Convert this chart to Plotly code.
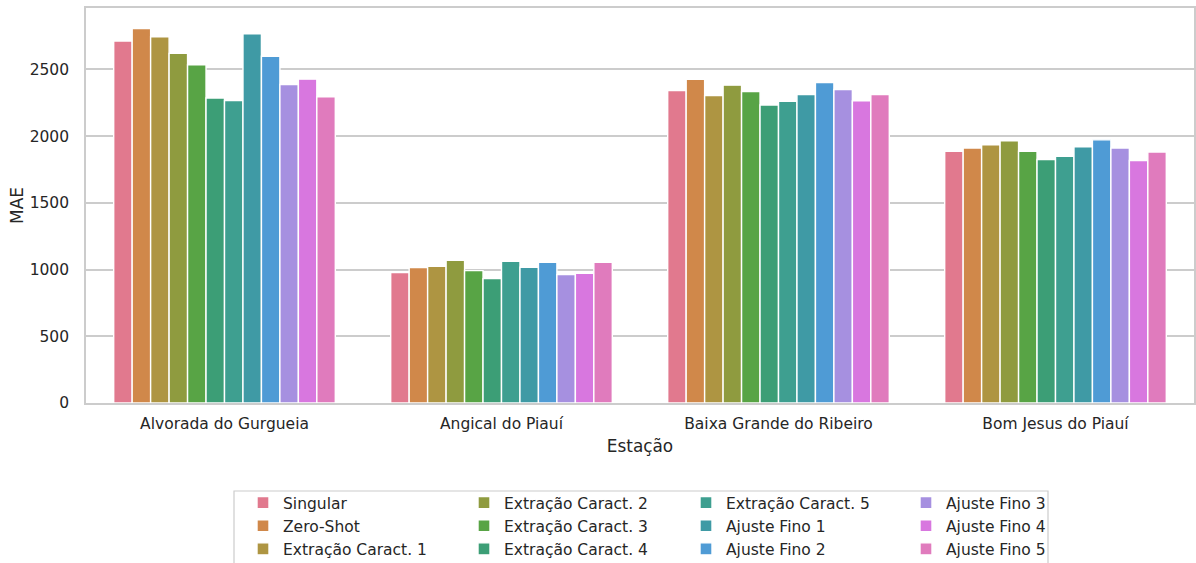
import plotly.graph_objects as go

stations = ["Alvorada do Gurgueia", "Angical do Piauí", "Baixa Grande do Ribeiro", "Bom Jesus do Piauí"]

methods = ["Singular", "Zero-Shot", "Extração Caract. 1", "Extração Caract. 2",
           "Extração Caract. 3", "Extração Caract. 4", "Extração Caract. 5",
           "Ajuste Fino 1", "Ajuste Fino 2", "Ajuste Fino 3", "Ajuste Fino 4", "Ajuste Fino 5"]

# MAE per method, one value per station (same order as `stations`)
singular = [2713, 977, 2342, 1887]
zero_shot = [2806, 1015, 2425, 1910]
extr_1 = [2745, 1025, 2304, 1935]
extr_2 = [2620, 1070, 2382, 1965]
extr_3 = [2535, 992, 2334, 1887]
extr_4 = [2286, 932, 2233, 1825]
extr_5 = [2267, 1062, 2261, 1849]
ajuste_1 = [2766, 1017, 2312, 1920]
ajuste_2 = [2598, 1055, 2402, 1972]
ajuste_3 = [2387, 962, 2349, 1910]
ajuste_4 = [2427, 972, 2264, 1817]
ajuste_5 = [2294, 1055, 2312, 1880]

series = [singular, zero_shot, extr_1, extr_2, extr_3, extr_4, extr_5,
          ajuste_1, ajuste_2, ajuste_3, ajuste_4, ajuste_5]

y_ticks = [0, 500, 1000, 1500, 2000, 2500]

colors = ["#e1798e", "#d0884a", "#ae9542", "#8f9b3f", "#58a445", "#3c9e76",
          "#3e9f90", "#3f9aa5", "#4f9bd5", "#a690e0", "#d877df", "#e07bbd"]

TEXT = "#262626"
GRID = "#cccccc"
FONT = "DejaVu Sans"

fig = go.Figure()
for i, (name, vals) in enumerate(zip(methods, series)):
    col = i // 3
    fig.add_trace(go.Bar(
        x=stations, y=vals, name=name,
        marker=dict(color=colors[i], line=dict(color="white", width=1.4)),
        legend="legend" if col == 0 else f"legend{col + 1}",
    ))

plot_l, plot_r, plot_t, plot_b = 86, 1194, 8, 403
W, H = 1196, 563
pw = plot_r - plot_l
ph = plot_b - plot_t

def px_x(x):
    return (x - plot_l) / pw

def px_y(y):
    return (plot_b - y) / ph

legend_text_x = [283, 504, 726, 946]
legend_top = 486
legend_common = dict(
    orientation="v", xanchor="left", yanchor="top",
    bgcolor="rgba(0,0,0,0)", borderwidth=0,
    font=dict(family=FONT, size=15.5, color=TEXT),
    traceorder="normal",
)
layout_legends = {}
for k, tx in enumerate(legend_text_x):
    key = "legend" if k == 0 else f"legend{k + 1}"
    layout_legends[key] = dict(legend_common, x=px_x(tx - 40), y=px_y(legend_top))

fig.update_layout(
    width=W, height=H,
    margin=dict(l=plot_l, r=W - plot_r, t=plot_t, b=H - plot_b, autoexpand=False),
    paper_bgcolor="white", plot_bgcolor="white",
    barmode="group", bargap=0.2, bargroupgap=0,
    font=dict(family=FONT, size=15.5, color=TEXT),
    showlegend=True,
    **layout_legends,
    xaxis=dict(
        title=dict(text="Estação", font=dict(size=16.9, color=TEXT), standoff=8),
        showgrid=False, showline=True, mirror=True, linecolor=GRID, linewidth=1.6,
        ticks="", ticklabelstandoff=6, tickfont=dict(size=15.5, color=TEXT),
        range=[-0.5, 3.5], automargin=False,
    ),
    yaxis=dict(
        title=dict(text="MAE", font=dict(size=16.9, color=TEXT), standoff=2),
        range=[0, 2960], tickvals=y_ticks, ticktext=[str(v) for v in y_ticks],
        showgrid=True, gridcolor=GRID, gridwidth=1.6,
        showline=True, mirror=True, linecolor=GRID, linewidth=1.6,
        zeroline=False, ticks="", ticklabelstandoff=12,
        tickfont=dict(size=15.5, color=TEXT), automargin=False,
    ),
    shapes=[dict(
        type="rect", xref="paper", yref="paper",
        x0=px_x(234), x1=px_x(1048), y0=px_y(575), y1=px_y(491),
        line=dict(color=GRID, width=1.2), fillcolor="rgba(0,0,0,0)",
        layer="below",
    )],
)

fig.write_html(
    "out.html",
    config={"displayModeBar": False},
    post_script="document.body.style.margin='0';document.body.style.overflow='hidden';",
)
